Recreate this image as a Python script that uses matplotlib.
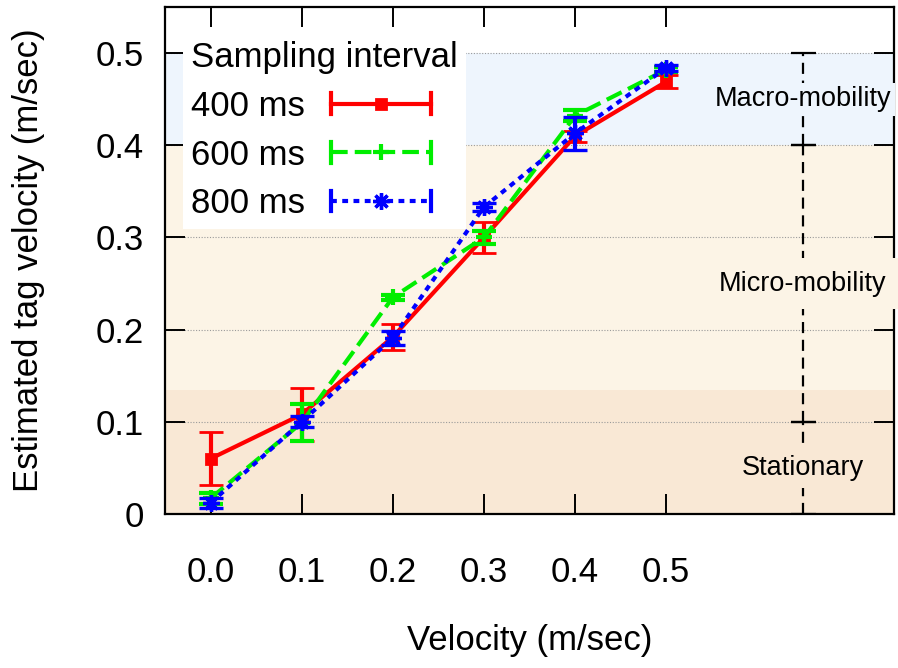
import matplotlib
matplotlib.use("Agg")
import matplotlib.pyplot as plt
from matplotlib.lines import Line2D
from matplotlib.legend_handler import HandlerBase

plt.rcParams['font.family'] = ['Liberation Sans', 'DejaVu Sans']

# ---- data ----
velocity = [0.0, 0.1, 0.2, 0.3, 0.4, 0.5]
x_tick_labels = ['0.0', '0.1', '0.2', '0.3', '0.4', '0.5']
y_ticks = [0.0, 0.1, 0.2, 0.3, 0.4, 0.5]
y_tick_labels = ['0', '0.1', '0.2', '0.3', '0.4', '0.5']

series_names = ['400 ms', '600 ms', '800 ms']
est_400 = [0.060, 0.108, 0.192, 0.300, 0.410, 0.469]
err_400 = [0.029, 0.029, 0.014, 0.017, 0.006, 0.007]
est_600 = [0.017, 0.099, 0.235, 0.300, 0.432, 0.482]
err_600 = [0.006, 0.020, 0.003, 0.007, 0.006, 0.003]
est_800 = [0.012, 0.100, 0.191, 0.333, 0.413, 0.484]
err_800 = [0.005, 0.006, 0.008, 0.004, 0.018, 0.003]

region_names = ['Stationary', 'Micro-mobility', 'Macro-mobility']
region_low = [0.0, 0.135, 0.4]
region_high = [0.135, 0.4, 0.5]
region_colors = ['#F9E8D5', '#FCF4E6', '#EEF5FD']
range_mid = [0.05, 0.25, 0.45]
range_half = [0.05, 0.15, 0.05]
label_y = [0.05, 0.25, 0.45]
label_pad = [5, 9, 2.5]
range_x = 0.65

# ---- figure ----
fig = plt.figure(figsize=(8.98, 6.68), dpi=100)
ax = fig.add_axes([165/898, 1 - 514/668, (894-165)/898, (514-7)/668])
ax.set_xlim(-0.05, 0.75)
ax.set_ylim(0, 0.55)

for lo, hi, c in zip(region_low, region_high, region_colors):
    ax.axhspan(lo, hi, color=c, lw=0, zorder=0.5)

ax.set_yticks(y_ticks)
ax.set_yticklabels(y_tick_labels)
ax.set_xticks(velocity)
ax.set_xticklabels(x_tick_labels)
ax.yaxis.grid(True, linestyle=(0, (1, 1.5)), color='#9a9a9a', lw=0.8)
ax.set_axisbelow(True)

ax.tick_params(axis='both', direction='in', length=14.4, width=1.4,
               top=True, right=True, labelsize=25)
ax.tick_params(axis='y', pad=15)
ax.tick_params(axis='x', pad=30)
for s in ax.spines.values():
    s.set_linewidth(1.6)

styles = [
    dict(color='#ff0000', marker='s', ms=7, mew=2, dashes=None),
    dict(color='#00ee00', marker='+', ms=11, mew=3, dashes=(4, 1.7)),
    dict(color='#0000ff', marker=(8, 2, 0), ms=12, mew=2.4, dashes=(1.4, 1.3)),
]
data = [(est_400, err_400), (est_600, err_600), (est_800, err_800)]
lw = 3.0
for i, ((y, e), st) in enumerate(zip(data, styles)):
    ebc = ax.errorbar(velocity, y, yerr=e, color=st['color'], lw=lw,
                      marker=st['marker'], ms=st['ms'], mew=st['mew'],
                      mec=st['color'], capsize=8.3, capthick=3, elinewidth=3,
                      zorder=3 + i)
    if st['dashes'] is not None:
        ebc[0].set_dashes(st['dashes'])

# region range indicator
eb = ax.errorbar([range_x]*3, range_mid, yerr=range_half, fmt='none',
                 ecolor='black', elinewidth=1.6, capsize=9, capthick=1.6, zorder=2.6)
eb[2][0].set_linestyle((0, (5, 3)))
for name, yy, pd, c in zip(region_names, label_y, label_pad, region_colors):
    ax.text(range_x, yy, name, ha='center', va='center', fontsize=19.5, zorder=2.8,
            bbox=dict(facecolor=c, edgecolor='none', pad=pd))

ax.set_xlabel('Velocity (m/sec)', fontsize=25)
ax.set_ylabel('Estimated tag velocity (m/sec)', fontsize=25)
ax.xaxis.set_label_coords(0.5, -0.216)
ax.yaxis.set_label_coords(-0.165, 0.5)


class HandlerEB(HandlerBase):
    def __init__(self, st, **kw):
        super().__init__(**kw)
        self.st = st

    def create_artists(self, legend, orig_handle, xdescent, ydescent,
                       width, height, fontsize, trans):
        st = self.st
        y = height / 2 - ydescent
        x0 = -xdescent
        x1 = -xdescent + width
        ch = 7.5
        line = Line2D([x0, x1], [y, y], color=st['color'], lw=lw)
        if st['dashes'] is not None:
            line.set_dashes(st['dashes'])
        mk = Line2D([(x0 + x1) / 2], [y], marker=st['marker'], ms=st['ms'],
                    mew=st['mew'], color=st['color'], mec=st['color'], ls='none')
        c1 = Line2D([x0, x0], [y - ch, y + ch], color=st['color'], lw=3)
        c2 = Line2D([x1, x1], [y - ch, y + ch], color=st['color'], lw=3)
        arts = [line, mk, c1, c2]
        for a in arts:
            a.set_transform(trans)
        return arts


proxies = [Line2D([], [], color=st['color']) for st in styles]
hmap = {p: HandlerEB(st) for p, st in zip(proxies, styles)}
leg = ax.legend(proxies, series_names, handler_map=hmap,
                title='Sampling interval', title_fontsize=25, fontsize=25,
                loc='upper left', bbox_to_anchor=(183/898, 1 - 33/668),
                bbox_transform=fig.transFigure, borderaxespad=0,
                markerfirst=False, handlelength=2.88, handletextpad=0.75,
                labelspacing=0.45, borderpad=0.24, frameon=True, alignment='left',
                fancybox=False, framealpha=1, facecolor='white', edgecolor='none')
leg.set_zorder(10)

fig.savefig('out.png', dpi=100)
